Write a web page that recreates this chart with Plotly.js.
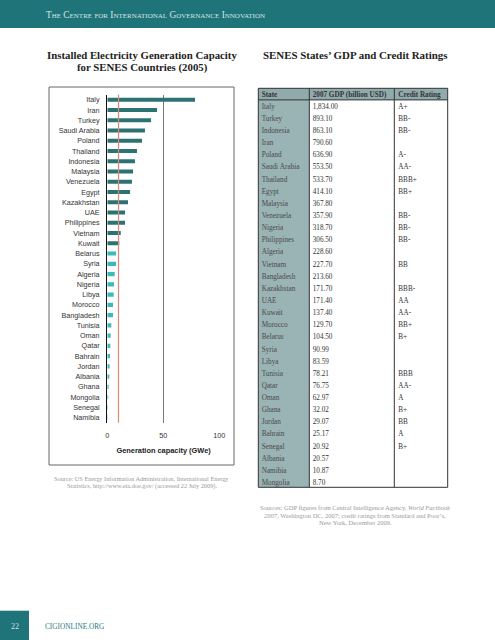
<!DOCTYPE html>
<html><head><meta charset="utf-8">
<script src="https://cdn.plot.ly/plotly-3.0.1.min.js"></script>
<style>html,body{margin:0;padding:0;background:#fff}#chart{width:495px;height:640px}</style>
</head><body><div id="chart"></div>
<script>
// ---- bar chart data ----
const countries = ["Italy","Iran","Turkey","Saudi Arabia","Poland","Thailand","Indonesia","Malaysia","Venezuela","Egypt","Kazakhstan","UAE","Philippines","Vietnam","Kuwait","Belarus","Syria","Algeria","Nigeria","Libya","Morocco","Bangladesh","Tunisia","Oman","Qatar","Bahrain","Jordan","Albania","Ghana","Mongolia","Senegal","Namibia"];
const capacityGWe = [78.3,44.4,39.0,33.6,31.0,26.5,24.7,23.0,22.0,20.3,18.5,15.8,15.8,12.0,10.7,7.8,7.8,6.6,6.0,5.7,5.1,5.1,3.6,3.0,2.7,2.4,2.1,1.8,1.2,0.8,0.5,0.4];
const THRESHOLD_GWE = 10;
const xTickVals = [0,50,100];
const xTickText = ["0","50","100"];

// ---- table data ----
const tableHeaders = ["State","2007 GDP (billion USD)","Credit Rating"];
const states = ["Italy","Turkey","Indonesia","Iran","Poland","Saudi Arabia","Thailand","Egypt","Malaysia","Venezuela","Nigeria","Philippines","Algeria","Vietnam","Bangladesh","Kazakhstan","UAE","Kuwait","Morocco","Belarus","Syria","Libya","Tunisia","Qatar","Oman","Ghana","Jordan","Bahrain","Senegal","Albania","Namibia","Mongolia"];
const gdp2007 = ["1,834.00","893.10","863.10","790.60","636.90","553.50","533.70","414.10","367.80","357.90","318.70","306.50","228.60","227.70","213.60","171.70","171.40","137.40","129.70","104.50","90.99","83.59","78.21","76.75","62.97","32.02","29.07","25.17","20.92","20.57","10.87","8.70"];
const creditRatings = ["A+","BB-","BB-","","A-","AA-","BBB+","BB+","","BB-","BB-","BB-","","BB","","BBB-","AA","AA-","BB+","B+","","","BBB","AA-","A","B+","BB","A","B+","","",""];

// ---- layout helpers (pixel -> paper) ----
const W = 495, H = 640;
const X = p => p / W;
const Y = p => 1 - p / H;
const nb = s => s.replace(/ /g, "\u00a0");   // keep cell text on one line

const DARK = "#2b7373", LIGHT = "#3cbaba", TEAL = "#1e7479";
const barColors = capacityGWe.map(v => v >= THRESHOLD_GWE ? DARK : LIGHT);

const sans = "Liberation Sans, Arial, sans-serif";
const serif = "Liberation Serif, Times New Roman, serif";

const bars = {
  type: "bar", orientation: "h",
  y: countries, x: capacityGWe,
  marker: {color: barColors},
  width: 0.4,
  hoverinfo: "skip",
  xaxis: "x", yaxis: "y"
};

const ROW_H = 12.14, HEAD_H = 12.0, TABLE_TOP = 83.3;
const table = {
  type: "table",
  domain: {x: [X(253.7), X(443.7)], y: [Y(TABLE_TOP + HEAD_H + 32 * ROW_H + 6), Y(TABLE_TOP)]},
  columnwidth: [51, 85.6, 53.4],
  header: {
    values: tableHeaders.map(nb),
    align: "left", height: HEAD_H,
    fill: {color: "rgba(0,0,0,0)"},
    line: {width: 0, color: "rgba(0,0,0,0)"},
    font: {family: serif, size: 7.2, color: "#333", weight: "bold"}
  },
  cells: {
    values: [states.map(nb), gdp2007, creditRatings],
    align: "left", height: ROW_H,
    fill: {color: "rgba(0,0,0,0)"},
    line: {width: 0, color: "rgba(0,0,0,0)"},
    font: {family: serif, size: 7.2, color: ["#4a4a4a", "#333", "#333"]}
  }
};

const shapes = [
  {type:"rect", xref:"paper", yref:"paper", x0:0, x1:1, y0:Y(28), y1:1, fillcolor:TEAL, line:{width:0}, layer:"below"},
  {type:"rect", xref:"paper", yref:"paper", x0:0, x1:X(29), y0:0, y1:Y(610.7), fillcolor:TEAL, line:{width:0}, layer:"below"},
  {type:"rect", xref:"paper", yref:"paper", x0:X(49), x1:X(234), y0:Y(465), y1:Y(87), line:{color:"#666", width:1}, fillcolor:"rgba(0,0,0,0)"},
  {type:"line", xref:"x", yref:"y domain", x0:THRESHOLD_GWE, x1:THRESHOLD_GWE, y0:0, y1:1, line:{color:"#e08878", width:1.2}},
  {type:"rect", xref:"paper", yref:"paper", x0:X(258.3), x1:X(309.3), y0:Y(487.3), y1:Y(88.3), fillcolor:"#9ab3b5", line:{width:0}, layer:"below"},
  {type:"rect", xref:"paper", yref:"paper", x0:X(258.3), x1:X(447.7), y0:Y(99.9), y1:Y(88.3), fillcolor:"#91abad", line:{width:0}, layer:"below"},
  {type:"rect", xref:"paper", yref:"paper", x0:X(258.3), x1:X(447.7), y0:Y(487.3), y1:Y(88.3), line:{color:"#333", width:1}, fillcolor:"rgba(0,0,0,0)"},
  {type:"line", xref:"paper", yref:"paper", x0:X(309.3), x1:X(309.3), y0:Y(487.3), y1:Y(88.3), line:{color:"#333", width:1}},
  {type:"line", xref:"paper", yref:"paper", x0:X(394.3), x1:X(394.3), y0:Y(487.3), y1:Y(88.3), line:{color:"#333", width:1}},
  {type:"line", xref:"paper", yref:"paper", x0:X(258.3), x1:X(447.7), y0:Y(99.9), y1:Y(99.9), line:{color:"#333", width:1}}
];

function ann(text, x, y, opts) {
  return Object.assign({xref:"paper", yref:"paper", x:X(x), y:Y(y), text:text, showarrow:false,
    xanchor:"center", yanchor:"middle"}, opts || {});
}

const annotations = [
  ann("The Centre for International Governance Innovation", 44, 15,
      {xanchor:"left", font:{family:serif, size:9.3, color:"#d6e6e6", variant:"small-caps"}}),
  ann("<b>Installed Electricity Generation Capacity</b>", 142, 55, {font:{family:serif, size:10.8, color:"#222"}}),
  ann("<b>for SENES Countries (2005)</b>", 142, 67.5, {font:{family:serif, size:10.8, color:"#222"}}),
  ann("<b>SENES States’ GDP and Credit Ratings</b>", 261, 55, {xanchor:"left", font:{family:serif, size:10.9, color:"#222"}}),
  ann("Source: US Energy Information Administration, International Energy", 141.5, 478, {font:{family:serif, size:6.3, color:"#9a9a9a"}}),
  ann("Statistics, http://www.eia.doe.gov/ (accessed 22 July 2009).", 141.5, 485.7, {font:{family:serif, size:6.3, color:"#9a9a9a"}}),
  ann("Sources: GDP figures from Central Intelligence Agency, <i>World Factbook</i>", 355, 507, {font:{family:serif, size:6.5, color:"#9a9a9a"}}),
  ann("<i>2007</i>, Washington DC, 2007; credit ratings from Standard and Poor’s,", 355, 515, {font:{family:serif, size:6.5, color:"#9a9a9a"}}),
  ann("New York, December 2009.", 355, 522.7, {font:{family:serif, size:6.5, color:"#9a9a9a"}}),
  ann("22", 14.5, 626, {font:{family:serif, size:8, color:"#cfe3e3"}}),
  ann("CIGIONLINE.ORG", 43, 626, {xanchor:"left", font:{family:serif, size:7.3, color:"#2a7a80"}})
];

const layout = {
  width: W, height: H,
  margin: {l:0, r:0, t:0, b:0},
  paper_bgcolor: "#fff", plot_bgcolor: "rgba(0,0,0,0)",
  showlegend: false,
  xaxis: {
    domain: [X(107.3), X(107.3 + 100.5*1.12)],
    range: [0, 100.5], fixedrange: true,
    tickvals: xTickVals, ticktext: xTickText,
    showgrid: true, gridcolor: "#777", gridwidth: 1.2,
    zeroline: false, showline: false, ticks: "",
    ticklabelstandoff: 7,
    tickfont: {family: sans, size: 7.2, color: "#333"},
    title: {text: "<b>Generation capacity (GWe)</b>", standoff: 8, font: {family: sans, size: 7.4, color: "#222"}}
  },
  yaxis: {
    domain: [Y(422.8), Y(94.6)],
    type: "category", categoryorder: "array", categoryarray: countries,
    range: [countries.length - 0.5, -0.5], fixedrange: true,
    showgrid: false, zeroline: false,
    showline: true, linecolor: "#111", linewidth: 1.3,
    ticks: "", ticklabelstandoff: 5,
    tickfont: {family: sans, size: 7.2, color: "#333"}
  },
  shapes: shapes,
  annotations: annotations
};

Plotly.newPlot("chart", [bars, table], layout, {staticPlot: true, displayModeBar: false});
</script></body></html>
